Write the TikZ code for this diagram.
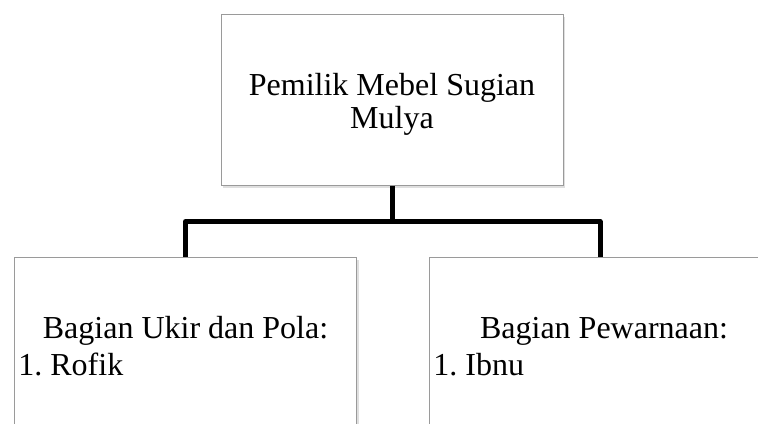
\documentclass[tikz,border=0pt]{standalone}
\usepackage{fontspec}
\setmainfont{Liberation Serif}
\usetikzlibrary{shadows}

\definecolor{boxgray}{HTML}{9A9A9A}

\tikzset{
	unitbox/.style={draw=boxgray, line width=0.5pt, fill=white, inner sep=0pt,
		minimum width=171pt, minimum height=85.5pt,
		drop shadow={shadow xshift=1pt, shadow yshift=-1.5pt, opacity=0.25}},
	unittext/.style={inner sep=0pt, font=\fontsize{16}{16.5}\selectfont},
	orgline/.style={line width=2.5pt, line join=round}
}

\begin{document}
\frenchspacing
\begin{tikzpicture}[x=0.5pt, y=-0.5pt]
	\useasboundingbox (0,0) rectangle (758,423);
	\clip (0,0) rectangle (758,423);
	% Owner
	\node[unitbox] (pemilik) at (392,99.5) {};
	\node[unittext, align=center, anchor=base] (pemiliktext) at (392,128) {Pemilik Mebel Sugian\\Mulya};
	% Divisions
	\node[unitbox] (ukir) at (185.5,342.5) {};
	\node[unitbox] (warna) at (600,342.5) {};
	% Division texts
	\node[unittext, anchor=base] (ukirhead) at (185.5,338) {Bagian Ukir dan Pola:};
	\node[unittext, anchor=base west] (ukirlist) at (18,375) {1. Rofik};
	\node[unittext, anchor=base] (warnahead) at (604,338) {Bagian Pewarnaan:};
	\node[unittext, anchor=base west] (warnalist) at (433,375) {1. Ibnu};
	% Connectors
	\coordinate (bus) at (392,221.5);
	\draw[orgline] (pemilik.south) -- (bus);
	\draw[orgline] (ukir.north) |- (bus) -| (warna.north);
\end{tikzpicture}
\end{document}
